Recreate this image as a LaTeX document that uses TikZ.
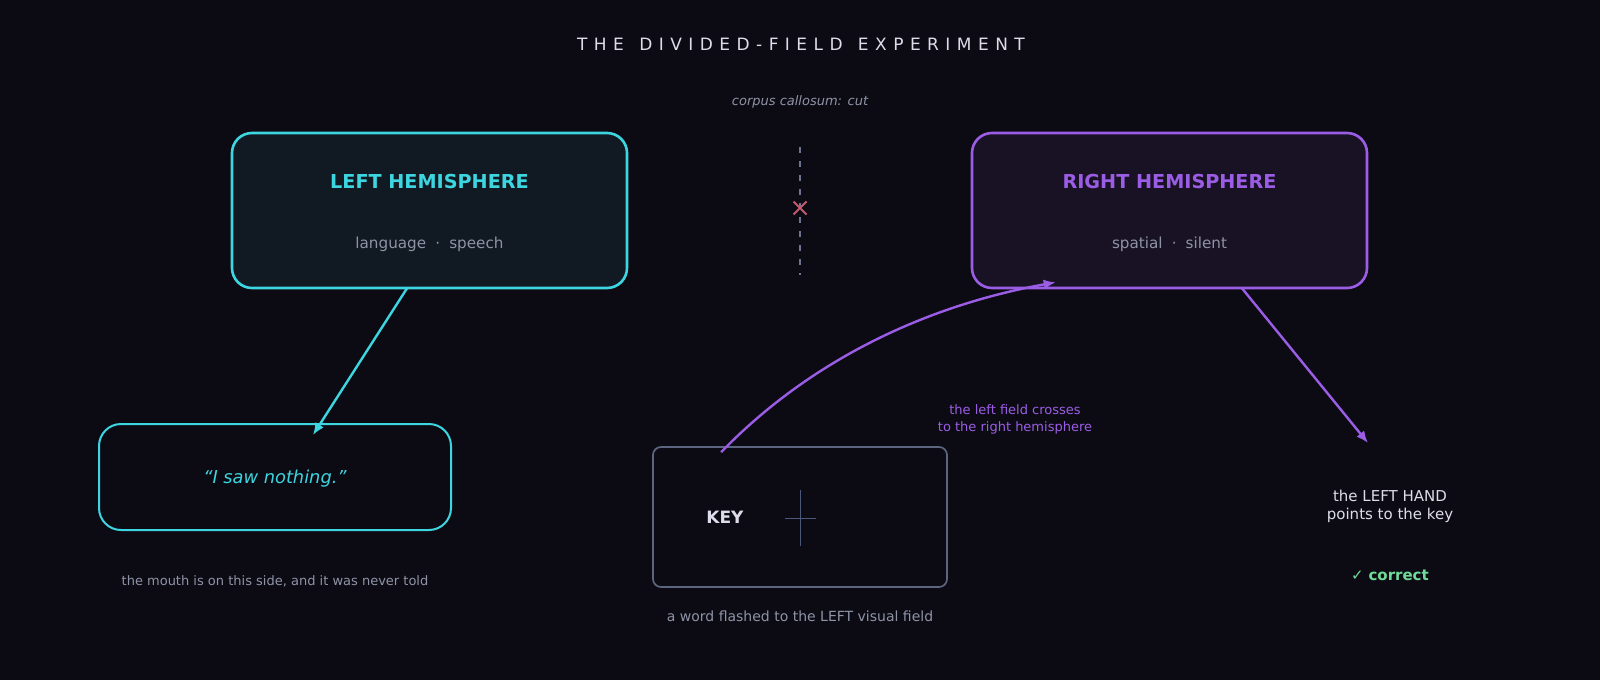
\documentclass[tikz,border=0pt]{standalone}
\usepackage{fontspec}
\setmainfont{DejaVu Sans}
\newfontfamily\titlefont[LetterSpace=38]{DejaVu Sans}
\usetikzlibrary{arrows.meta,calc,shapes.misc}
\definecolor{bg}{HTML}{0C0B14}
\definecolor{leftfill}{HTML}{111923}
\definecolor{rightfill}{HTML}{181224}
\definecolor{cyanc}{HTML}{3DD5DF}
\definecolor{purp}{HTML}{9B5DE5}
\definecolor{graytxt}{HTML}{8E93A6}
\definecolor{lighttxt}{HTML}{DDDDEA}
\definecolor{keyborder}{HTML}{5B6580}
\definecolor{cutc}{HTML}{6E7390}
\definecolor{xred}{HTML}{C25A6E}
\definecolor{greenc}{HTML}{6FDB9A}
\definecolor{fixc}{HTML}{4C587A}
\tikzset{
  hemi/.style={draw, line width=1.3pt, rounded corners=10pt, minimum width=395*0.5pt, minimum height=155*0.5pt, inner sep=0pt},
  saidbox/.style={draw=cyanc, line width=1pt, rounded corners=11pt, fill=bg, minimum width=352*0.5pt, minimum height=106*0.5pt, inner sep=0pt},
  keybox/.style={draw=keyborder, line width=0.85pt, rounded corners=4pt, fill=bg, minimum width=294*0.5pt, minimum height=140*0.5pt, inner sep=0pt},
  txt/.style={inner sep=0pt, align=center},
  conn/.style={line width=1.2pt, -{Latex[length=6pt,width=5pt]}},
}
\begin{document}
\begin{tikzpicture}[x=0.5pt,y=-0.5pt]
\fill[bg] (0,0) rectangle (1600,680);
\useasboundingbox (0,0) rectangle (1600,680);

% title
\node[txt, text=lighttxt, font=\titlefont\fontsize{8.5}{10}\selectfont] (title) at (801,44) {THE\hspace{0.9em}DIVIDED-FIELD\hspace{0.9em}EXPERIMENT};
\node[txt, text=graytxt, font=\itshape\fontsize{6.5}{8}\selectfont] (corpus) at (800,102) {corpus callosum: cut};

% cut line
\coordinate (cuttop) at (800,147);
\coordinate (cutbot) at (800,275);
\draw[cutc, line width=0.8pt, dash pattern=on 3pt off 4pt] (cuttop) -- (cutbot);
\node[cross out, draw=xred, line width=1pt, minimum size=5.5pt, inner sep=0pt] (xmark) at (800,208) {};

% hemispheres
\node[hemi, draw=cyanc, fill=leftfill] (left) at (429.5,210.5) {};
\node[txt, text=cyanc, font=\bfseries\fontsize{9.6}{11}\selectfont] (lefttitle) at ($(left.center)+(0,-29)$) {LEFT HEMISPHERE};
\node[txt, text=graytxt, font=\fontsize{7.6}{9}\selectfont] (leftsub) at ($(left.center)+(0,33.5)$) {language\hspace{0.6em}·\hspace{0.6em}speech};

\node[hemi, draw=purp, fill=rightfill] (right) at (1169.5,210.5) {};
\node[txt, text=purp, font=\bfseries\fontsize{9.6}{11}\selectfont] (righttitle) at ($(right.center)+(0,-29)$) {RIGHT HEMISPHERE};
\node[txt, text=graytxt, font=\fontsize{7.6}{9}\selectfont] (rightsub) at ($(right.center)+(0,33.5)$) {spatial\hspace{0.6em}·\hspace{0.6em}silent};

% said box
\node[saidbox] (said) at (275,477) {};
\node[txt, text=cyanc, font=\itshape\fontsize{8.9}{10}\selectfont] (saidtxt) at ($(said.center)+(0,2)$) {“I saw nothing.”};
\node[txt, text=graytxt, font=\fontsize{6.5}{8}\selectfont] (mouth) at (275,581) {the mouth is on this side, and it was never told};

% key box
\node[keybox] (key) at (800,517) {};
\node[txt, text=lighttxt, font=\bfseries\fontsize{8.5}{10}\selectfont] (keytxt) at (725,517) {KEY};
\coordinate (fixc) at (800,518);
\draw[fixc, line width=0.5pt] ($(fixc)+(0,-28)$) -- ($(fixc)+(0,28)$);
\draw[fixc, line width=0.5pt] ($(fixc)+(-15.5,0)$) -- ($(fixc)+(15.5,0)$);
\node[txt, text=graytxt, font=\fontsize{7}{9}\selectfont] (flash) at (800,616) {a word flashed to the LEFT visual field};

% right-side outcome
\node[txt, text=lighttxt, font=\fontsize{7.5}{9}\selectfont] (hand) at (1390,506) {the LEFT HAND\\points to the key};
\node[txt, text=greenc, font=\fontsize{7.5}{9}\selectfont] (correct) at (1390,575) {✓ \textbf{correct}};

% crosses label
\node[txt, text=purp, font=\fontsize{6.5}{8.5}\selectfont] (crosses) at (1015,419) {the left field crosses\\to the right hemisphere};

% connectors
\coordinate (la1) at ($(left.south)+(-22.5,-1)$);
\coordinate (la2) at ($(said.north)+(38,12)$);
\draw[conn, cyanc] (la1) -- (la2);

\coordinate (ca1) at ($(key.north west)+(69,6)$);
\coordinate (ca2) at ($(right.south west)+(85,-7)$);
\draw[conn, purp] (ca1) .. controls ($(ca1)+(90,-93)$) and ($(ca2)+(-128,23)$) .. (ca2);

\coordinate (ra1) at ($(right.south)+(72.5,-1)$);
\coordinate (ra2) at (1368,443);
\draw[conn, purp] (ra1) -- (ra2);
\end{tikzpicture}
\end{document}
